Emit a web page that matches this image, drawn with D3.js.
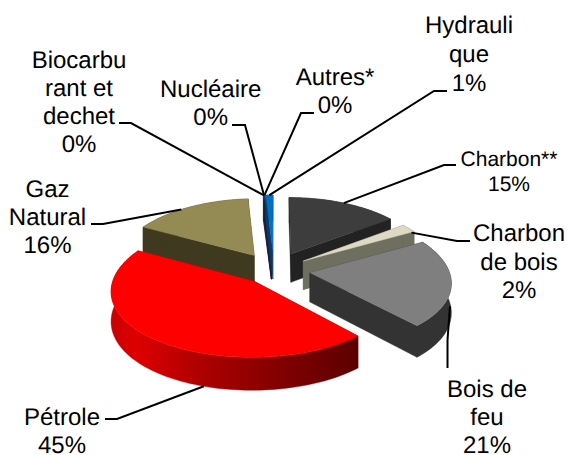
<!DOCTYPE html>
<html><head><meta charset="utf-8">
<script src="https://cdn.jsdelivr.net/npm/d3@7"></script>
<style>html,body{margin:0;padding:0;background:#fff}svg{display:block}text{font-family:"Liberation Sans",Arial,sans-serif;fill:#000;text-rendering:geometricPrecision}</style>
</head><body><div id="c"></div>
<script>
const categories=["Charbon**","Charbon de bois","Bois de feu","Pétrole","Gaz Natural","Biocarburant et dechet","Nucléaire","Autres*","Hydraulique"];
const shares=[14.8,2.1,21.4,44.6,16.0,0.05,0.05,0.05,0.95];
const percentLabels=["15%","2%","21%","45%","16%","0%","0%","0%","1%"];
const explosion=[.28,.255,.26,.22,.27,.3,.3,.3,.3];
const topColors=["#3d3d3d","#ddd9c3","#7f7f7f","#ff0000","#948a54","#c0504d","#7030a0","#1f497d","#0070c0"];
const wallColors=["#222222","#6f6f5f","#333333","url(#petrolWall)","#3f3920","#5a2523","#3a1a55","#10253f","#0f3a66"];
const labelLines=[["Charbon**","15%"],["Charbon","de bois","2%"],["Bois de","feu","21%"],["Pétrole","45%"],["Gaz","Natural","16%"],["Biocarbu","rant et","dechet","0%"],["Nucléaire","0%"],["Autres*","0%"],["Hydrauli","que","1%"]];

// layout
const W=568,H=455,cx=274,cy=270,Rx=139,Ry=65.4,perspX=.126,perspY=.103,depth=29;
const labelLayout=[
 {x:509,y:166,lh:24.5,fs:21,elbow:[[456,165],[444,165]],at:[.5,0]},
 {x:519,y:241,lh:28.5,fs:24,elbow:[[470,241],[457,241]],at:[.75,.1]},
 {x:487,y:397,lh:28,fs:24,elbow:[[447.5,368],[447.5,340]],at:[.6,.45]},
 {x:62,y:425,lh:28,fs:24,elbow:[[105,419],[117,419]],at:[.37,1]},
 {x:47.5,y:197,lh:28,fs:24,elbow:[[91,224],[103,224]],at:[.42,0]},
 {x:79,y:68,lh:28,fs:24,elbow:[[119,123],[131,123]],at:[.5,0]},
 {x:210.7,y:97,lh:28,fs:24,elbow:[[232,125],[245,125]],at:[.5,0]},
 {x:335,y:85,lh:28,fs:24,elbow:[[314,113],[301,113]],at:[.5,0]},
 {x:469,y:33,lh:29,fs:24,elbow:[[447,91],[434,91]],at:[.5,0]}
];

const svg=d3.select("#c").append("svg").attr("width",W).attr("height",H);
const grad=svg.append("defs").append("linearGradient").attr("id","petrolWall")
 .attr("gradientUnits","userSpaceOnUse").attr("x1",111).attr("x2",358).attr("y1",0).attr("y2",0);
[[0,"#c80000"],[.1,"#de0000"],[.35,"#b00000"],[.7,"#800000"],[1,"#5c0000"]].forEach(s=>grad.append("stop").attr("offset",s[0]).attr("stop-color",s[1]));

const arcs=d3.pie().sort(null).value(d=>d)(shares);
const line=d3.line();
function proj(u,v,z){const dx=1+perspX*v,dy=1+perspY*v;return [cx+Rx*u/dx,cy-Ry*v/dy+z*depth/dy];}
function pt(i,a,r,z){const s=arcs[i],m=(s.startAngle+s.endAngle)/2,e=explosion[i];
 return proj(e*Math.sin(m)+r*Math.sin(a),e*Math.cos(m)+r*Math.cos(a),z);}
function arcAngles(s){const n=Math.max(2,Math.ceil((s.endAngle-s.startAngle)/.03));
 return d3.range(n+1).map(k=>s.startAngle+(s.endAngle-s.startAngle)*k/n);}

const order=[4,5,6,7,8,0,1,2,3];
order.forEach(i=>{
 const s=arcs[i],as=arcAngles(s),g=svg.append("g");
 const wall=wallColors[i];
 const quad=a=>line([pt(i,0,0,0),pt(i,a,1,0),pt(i,a,1,1),pt(i,0,0,1)])+"Z";
 [s.startAngle,s.endAngle].forEach(a=>g.append("path").attr("d",quad(a)).attr("fill",wall).attr("stroke",wall).attr("stroke-width",.4));
 const outer=as.map(a=>pt(i,a,1,0)).concat(as.slice().reverse().map(a=>pt(i,a,1,1)));
 g.append("path").attr("d",line(outer)+"Z").attr("fill",wall).attr("stroke",wall).attr("stroke-width",.4);
 const top=[pt(i,0,0,0)].concat(as.map(a=>pt(i,a,1,0)));
 g.append("path").attr("d",line(top)+"Z").attr("fill",topColors[i]).attr("stroke",topColors[i]).attr("stroke-width",.4);
});

labelLayout.forEach((l,i)=>{
 const s=arcs[i],a=s.startAngle+(s.endAngle-s.startAngle)*l.at[0];
 svg.append("path").attr("d",line(l.elbow.concat([pt(i,a,1,l.at[1])]))).attr("fill","none").attr("stroke","#000").attr("stroke-width",2);
 const t=svg.append("text").attr("text-anchor","middle").attr("font-size",l.fs);
 labelLines[i].forEach((txt,k)=>t.append("tspan").attr("x",l.x).attr("y",l.y+k*l.lh).text(txt));
});
</script></body></html>
